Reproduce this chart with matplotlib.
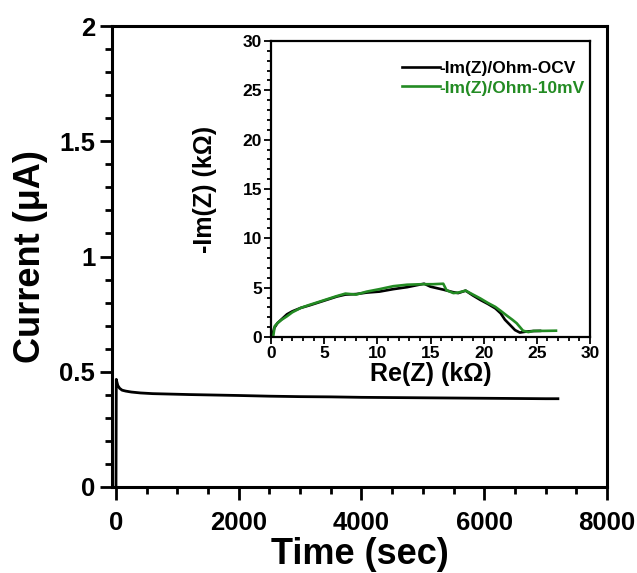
import numpy as np
import matplotlib
matplotlib.use("Agg")
import matplotlib.pyplot as plt
from matplotlib.ticker import MultipleLocator

# chronoamperometry
time_s = [0, 5, 15, 30, 60, 100, 160, 250, 400, 600, 900, 1200, 1600, 2000, 2500,
          3000, 3500, 4000, 4500, 5000, 5500, 6000, 6500, 7000, 7200]
current_uA = [0.0, 0.467, 0.455, 0.44, 0.428, 0.42, 0.416, 0.412, 0.408, 0.405, 0.403,
              0.401, 0.399, 0.397, 0.394, 0.392, 0.391, 0.389, 0.388, 0.387, 0.386,
              0.385, 0.384, 0.383, 0.383]

# nyquist (kOhm)
re_ocv = [0.1, 0.3, 0.6, 1.0, 1.5, 2.0, 2.8, 3.6, 4.9, 6.2, 7.0, 8.0, 9.0, 10.2, 11.5,
          12.8, 14.4, 15.0, 16.2, 17.1, 17.6, 18.3, 19.0, 19.7, 20.4, 21.1, 21.6, 22.0,
          22.5, 22.95, 23.4, 24.0, 24.6, 25.3]
im_ocv = [0.0, 0.9, 1.4, 1.8, 2.3, 2.6, 2.95, 3.2, 3.65, 4.1, 4.3, 4.35, 4.5, 4.6, 4.85,
          5.05, 5.4, 5.1, 4.8, 4.55, 4.45, 4.7, 4.2, 3.75, 3.35, 2.9, 2.4, 1.75,
          1.2, 0.7, 0.45, 0.55, 0.6, 0.62]
re_10mv = [0.2, 0.35, 0.65, 1.0, 1.5, 2.0, 2.8, 3.6, 4.9, 6.2, 7.0, 8.0, 9.0, 10.2, 11.5,
           12.8, 14.2, 15.2, 16.2, 16.5, 17.15, 17.6, 18.3, 19.0, 19.7, 20.4, 21.1, 21.6,
           22.2, 22.7, 23.1, 23.7, 24.2, 24.7, 25.7, 26.8]
im_10mv = [0.0, 1.1, 1.45, 1.75, 2.1, 2.5, 2.95, 3.25, 3.7, 4.15, 4.4, 4.3, 4.6, 4.85, 5.15,
           5.3, 5.35, 5.35, 5.4, 4.75, 4.45, 4.5, 4.7, 4.3, 3.9, 3.45, 3.05, 2.65,
           2.15, 1.75, 1.4, 0.64, 0.5, 0.62, 0.62, 0.64]

main_yticks = [0, 0.5, 1, 1.5, 2]
main_ylabels = ["0", "0.5", "1", "1.5", "2"]
main_xticks = [0, 2000, 4000, 6000, 8000]
inset_ticks = [0, 5, 10, 15, 20, 25, 30]

green = "#238B23"
plt.rcParams["font.family"] = ["Liberation Sans", "DejaVu Sans"]
plt.rcParams["font.weight"] = "bold"

W, H = 637, 573
fig = plt.figure(figsize=(W / 100, H / 100), dpi=100)

ax = fig.add_axes([112 / W, 1 - 487 / H, (607 - 112) / W, (487 - 26) / H])
ax.plot(time_s, current_uA, color="black", lw=2)
ax.set_xlim(-65, 8000)
ax.set_ylim(0, 2)
ax.set_xticks(main_xticks)
ax.set_yticks(main_yticks)
ax.set_yticklabels(main_ylabels)
ax.xaxis.set_minor_locator(MultipleLocator(500))
ax.yaxis.set_minor_locator(MultipleLocator(0.1))
ax.tick_params(which="both", direction="out", width=2, labelsize=18.5)
ax.tick_params(which="major", length=9)
ax.tick_params(which="minor", length=5)
ax.tick_params(axis="x", pad=8)
ax.tick_params(axis="y", pad=3)
for s in ax.spines.values():
    s.set_linewidth(2.2)
ax.set_xlabel("Time (sec)", fontsize=26, fontweight="bold", labelpad=2)
ax.set_ylabel("Current (\u03bcA)", fontsize=26, fontweight="bold", labelpad=8)

ins = fig.add_axes([271 / W, 1 - 337 / H, (590 - 271) / W, (337 - 41) / H])
ins.plot(re_ocv, im_ocv, color="black", lw=1.9, label="-Im(Z)/Ohm-OCV")
ins.plot(re_10mv, im_10mv, color=green, lw=1.9, label="-Im(Z)/Ohm-10mV")
ins.set_xlim(0, 30)
ins.set_ylim(0, 30)
ins.set_xticks(inset_ticks)
ins.set_yticks(inset_ticks)
ins.xaxis.set_minor_locator(MultipleLocator(1))
ins.yaxis.set_minor_locator(MultipleLocator(1))
ins.tick_params(which="both", direction="out", width=1.3, labelsize=12.5, pad=1.5)
ins.tick_params(which="major", length=5)
ins.tick_params(which="minor", length=3)
for s in ins.spines.values():
    s.set_linewidth(1.6)
ins.set_xlabel("Re(Z) (k\u03a9)", fontsize=18, fontweight="bold", labelpad=0.5)
ins.set_ylabel("-Im(Z) (k\u03a9)", fontsize=18, fontweight="bold", labelpad=18)

leg = ins.legend(loc="upper right", bbox_to_anchor=(1 + 9 / 319, 1 - 6 / 296),
                 frameon=False, fontsize=12.5, handlelength=2.2,
                 handletextpad=0.0, labelspacing=0.25, borderaxespad=0.4)
leg.get_texts()[1].set_color(green)

fig.savefig("out.png", dpi=100)
